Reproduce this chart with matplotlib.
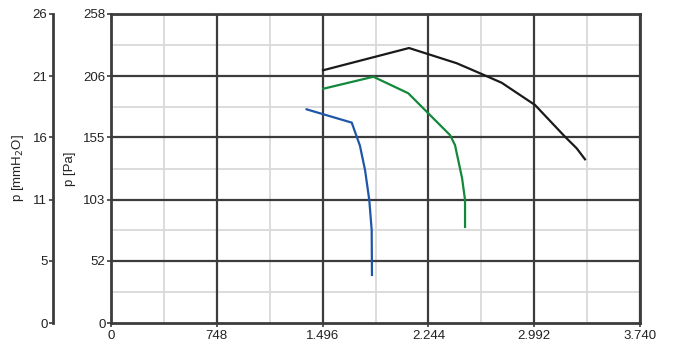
import matplotlib
matplotlib.use("Agg")
import matplotlib.pyplot as plt
import numpy as np

# axis ticks
x_ticks = [0, 748, 1496, 2244, 2992, 3740]
x_labels = ["0", "748", "1.496", "2.244", "2.992", "3.740"]
pa_ticks = [0, 52, 103, 155, 206, 258]
mm_labels = ["0", "5", "11", "16", "21", "26"]

# curves (flow, pressure in Pa)
black_x = [1499, 2107, 2444, 2609, 2762, 2998, 3210, 3292, 3351]
black_y = [211, 229.6, 216.9, 208.5, 200.6, 182, 155.5, 145.9, 136.7]
green_x = [1501, 1855, 2102, 2243, 2397, 2432, 2482, 2503, 2503]
green_y = [195.6, 205.6, 191.8, 175.1, 156.9, 148.6, 121, 102.7, 80.2]
blue_x = [1383, 1702, 1760, 1796, 1826, 1843, 1845]
blue_y = [178.4, 167.3, 148, 127.7, 102.7, 77.6, 40.1]

plt.rcParams['font.family'] = ['Liberation Sans', 'DejaVu Sans']
dark = "#3c3c3c"
light = "#d9d9d9"
fs = 9.5

fig = plt.figure(figsize=(6.78, 3.47), dpi=100)
ax = fig.add_axes([111 / 678, 24 / 347, 529 / 678, 309 / 347])
ax.set_xlim(0, 3740)
ax.set_ylim(0, 258)

# grid: light minor lines at midpoints, dark major lines
for xv in np.array(x_ticks[:-1]) + 374:
    ax.axvline(xv, color=light, lw=1.3, zorder=1)
for yv in np.array([0, 51.6, 103.2, 154.8, 206.4]) + 25.8:
    ax.axhline(yv, color=light, lw=1.3, zorder=1)
for xv in x_ticks[1:]:
    ax.axvline(xv, color=dark, lw=1.6, zorder=2)
for yv in pa_ticks[1:]:
    ax.axhline(yv, color=dark, lw=1.6, zorder=2)

ax.plot(black_x, black_y, color="#1a1a1a", lw=1.6, zorder=3)
ax.plot(green_x, green_y, color="#13883a", lw=1.6, zorder=3)
ax.plot(blue_x, blue_y, color="#1f56a8", lw=1.6, zorder=3)

for s in ax.spines.values():
    s.set_color(dark)
    s.set_linewidth(2)
ax.set_xticks(x_ticks)
ax.set_xticklabels(x_labels)
ax.set_yticks(pa_ticks)
ax.tick_params(colors=dark, labelcolor="#222222", labelsize=fs, length=3, width=1.2, pad=1)
ax.tick_params(axis='x', pad=2)
ax.set_ylabel("p [Pa]", fontsize=fs, color="#222222", labelpad=5)

ax2 = ax.twinx()
ax2.set_ylim(0, 258)
ax2.spines['left'].set_visible(True)
ax2.spines['left'].set_position(('outward', 58 * 0.72))
ax2.spines['left'].set_color(dark)
ax2.spines['left'].set_linewidth(2)
for k in ['right', 'top', 'bottom']:
    ax2.spines[k].set_visible(False)
ax2.yaxis.set_ticks_position('left')
ax2.yaxis.set_label_position('left')
ax2.set_yticks(pa_ticks)
ax2.set_yticklabels(mm_labels)
ax2.tick_params(colors=dark, labelcolor="#222222", labelsize=fs, length=3, width=1.2, pad=1)
ax2.set_ylabel("p [mmH$_2$O]", fontsize=fs, color="#222222", labelpad=5)

fig.savefig("out.png", dpi=100)
